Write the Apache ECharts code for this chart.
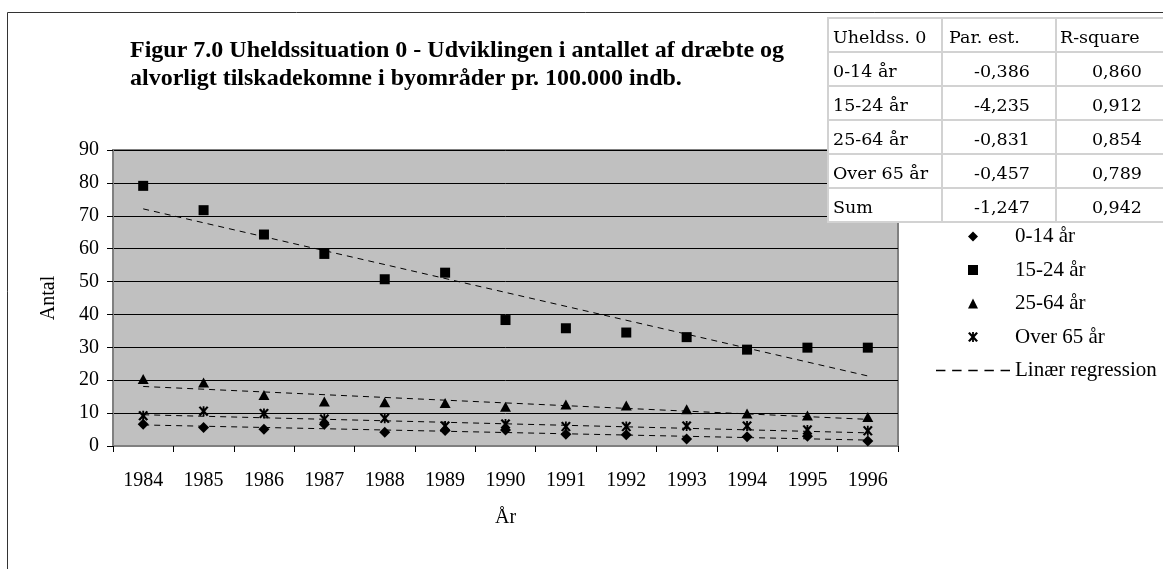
<!DOCTYPE html>
<html>
<head>
<meta charset="utf-8">
<script src="https://cdn.jsdelivr.net/npm/echarts@6/dist/echarts.min.js"></script>
<style>
  html, body { margin: 0; padding: 0; background: #fff; }
  #chart { width: 1163px; height: 569px; }
</style>
</head>
<body>
<div id="chart"></div>
<script>
// år på x-aksen
const years = ['1984', '1985', '1986', '1987', '1988', '1989', '1990', '1991', '1992', '1993', '1994', '1995', '1996']
const age0_14 = [6.6, 5.6, 5.1, 6.6, 4.2, 4.7, 4.9, 3.6, 3.4, 2.1, 2.8, 3.0, 1.5]
const age15_24 = [79.1, 71.7, 64.3, 58.4, 50.7, 52.7, 38.3, 35.8, 34.5, 33.1, 29.3, 29.9, 29.9]
const age25_64 = [20.4, 19.3, 15.5, 13.5, 13.3, 13.1, 11.9, 12.6, 12.3, 11.2, 9.9, 9.3, 8.8]
const over65 = [9.2, 10.6, 9.9, 8.2, 8.4, 6.1, 6.7, 5.9, 5.9, 6.1, 6.1, 4.9, 4.6]
// regressionslinjer: værdi i 1984 og 1996
const trendStart = [6.4, 72.1, 18.1, 9.5]
const trendEnd = [1.8, 21.3, 8.1, 4.0]

// tabel øverst til højre
const tableHead = ['Uheldss. 0', 'Par. est.', 'R-square']
const tableLabels = ['0-14 år', '15-24 år', '25-64 år', 'Over 65 år', 'Sum']
const parEst = ['-0,386', '-4,235', '-0,831', '-0,457', '-1,247']
const rSquare = ['0,860', '0,912', '0,854', '0,789', '0,942']

const serif = 'Liberation Serif'
const diamondPath = 'path://M5,0L10,5L5,10L0,5Z'
const rectPath = 'path://M0,0h10v10h-10z'
const trianglePath = 'path://M5,0L10,10L0,10Z'
const starPath = 'path://M0,1.2L1.8,0L5,3.6L8.2,0L10,1.2L6.6,5L10,8.8L8.2,10L5,6.4L1.8,10L0,8.8L3.4,5Z M4.1,0h1.8v10h-1.8z'
const dashPath = 'path://M0,0h7v1.2h-7z M12,0h7v1.2h-7z M24,0h7v1.2h-7z M36,0h7v1.2h-7z M48,0h7v1.2h-7z'

const groups = [
  { name: '0-14 år', data: age0_14, symbol: diamondPath, size: [11, 11] },
  { name: '15-24 år', data: age15_24, symbol: rectPath, size: [10, 10] },
  { name: '25-64 år', data: age25_64, symbol: trianglePath, size: [11, 10] },
  { name: 'Over 65 år', data: over65, symbol: starPath, size: [10, 10] }
]

const trendSeries = groups.map((g, i) => ({
  name: 'Linær regression',
  type: 'line',
  data: [[years[0], trendStart[i]], [years[years.length - 1], trendEnd[i]]],
  showSymbol: false,
  silent: true,
  animation: false,
  lineStyle: { color: '#000', width: 1, type: [6, 5] },
  itemStyle: { color: '#000' },
  z: 2
}))

const pointSeries = groups.map(g => ({
  name: g.name,
  type: 'scatter',
  data: g.data,
  symbol: g.symbol,
  symbolSize: g.size,
  animation: false,
  itemStyle: { color: '#000', opacity: 1 },
  z: 3
}))

// tabellen tegnes som graphic-elementer
const colX = [828, 942, 1056, 1170]
const textLeft = [833, 949, 1060]
const textRight = [0, 1030, 1142]
const rowTop = 18
const rowH = 34
const tableEls = []
const allRows = [tableHead].concat(tableLabels.map((l, i) => [l, parEst[i], rSquare[i]]))
allRows.forEach((row, r) =>
{
  row.forEach((cell, c) =>
  {
    tableEls.push({
      type: 'rect',
      shape: { x: colX[c], y: rowTop + r * rowH, width: colX[c + 1] - colX[c], height: rowH },
      style: { fill: '#fff', stroke: '#d2d2d2', lineWidth: 2 },
      z: 10
    })
    const rightAlign = r > 0 && c > 0
    tableEls.push({
      type: 'text',
      x: rightAlign ? textRight[c] : textLeft[c],
      y: rowTop + r * rowH + rowH / 2 + 3,
      style: {
        text: cell,
        fill: '#000',
        font: '17.5px "DejaVu Serif"',
        align: rightAlign ? 'right' : 'left',
        verticalAlign: 'middle'
      },
      z: 11
    })
  })
})

const chart = echarts.init(document.getElementById('chart'))
chart.setOption({
  backgroundColor: '#fff',
  animation: false,
  title: {
    text: 'Figur 7.0 Uheldssituation 0 - Udviklingen i antallet af dræbte og\nalvorligt tilskadekomne i byområder pr. 100.000 indb.',
    left: 130,
    top: 37,
    padding: 0,
    textStyle: { fontFamily: serif, fontWeight: 'bold', fontSize: 24, lineHeight: 28, color: '#000' }
  },
  legend: {
    orient: 'vertical',
    left: 936,
    top: 226,
    padding: 0,
    itemWidth: 74,
    itemHeight: 10,
    itemGap: 12.5,
    symbolKeepAspect: true,
    textStyle: { fontFamily: serif, fontSize: 21, color: '#000' },
    data: [
      { name: '0-14 år', icon: diamondPath },
      { name: '15-24 år', icon: rectPath },
      { name: '25-64 år', icon: trianglePath },
      { name: 'Over 65 år', icon: starPath },
      { name: 'Linær regression', icon: dashPath }
    ]
  },
  grid: {
    left: 113,
    right: 265,
    top: 150,
    bottom: 123,
    show: true,
    backgroundColor: '#c0c0c0',
    borderColor: '#808080',
    borderWidth: 2
  },
  xAxis: {
    type: 'category',
    data: years,
    boundaryGap: true,
    name: 'År',
    nameLocation: 'middle',
    nameGap: 62,
    nameTextStyle: { fontFamily: serif, fontSize: 20, color: '#000' },
    axisLine: { lineStyle: { color: '#808080', width: 2 } },
    axisTick: { show: true, length: 6, lineStyle: { color: '#000' } },
    axisLabel: { fontFamily: serif, fontSize: 20, color: '#000', margin: 25 },
    splitLine: { show: false }
  },
  yAxis: {
    type: 'value',
    min: 0,
    max: 90,
    interval: 10,
    name: 'Antal',
    nameLocation: 'middle',
    nameGap: 54,
    nameRotate: 90,
    nameTextStyle: { fontFamily: serif, fontSize: 20, color: '#000' },
    axisLine: { show: true, lineStyle: { color: '#808080', width: 2 } },
    axisTick: { show: true, length: 6, lineStyle: { color: '#000' } },
    axisLabel: { fontFamily: serif, fontSize: 20, color: '#000', margin: 14 },
    splitLine: { show: true, lineStyle: { color: '#000', width: 1 } }
  },
  series: trendSeries.concat(pointSeries),
  graphic: [
    {
      type: 'rect',
      shape: { x: 7.5, y: 12.5, width: 1300, height: 700 },
      style: { fill: 'none', stroke: '#333', lineWidth: 1 },
      silent: true,
      z: 0
    }
  ].concat(tableEls)
})
</script>
</body>
</html>
